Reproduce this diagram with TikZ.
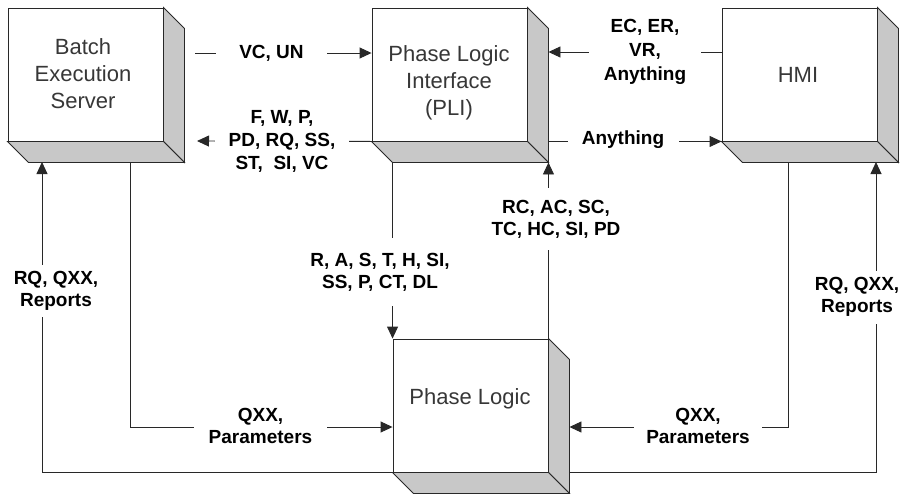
\documentclass[tikz,border=0pt]{standalone}
\usepackage{fontspec}
\setmainfont{Liberation Sans}
\usetikzlibrary{arrows.meta}

\definecolor{edge}{RGB}{40,40,40}
\definecolor{shade}{RGB}{200,200,200}
\definecolor{boxtxt}{RGB}{55,55,55}

% side and bottom faces of a block, plus the back corners as coordinates
\newcommand\blockfaces[1]{%
  \coordinate (#1-ne2) at ([shift={(21,21)}]#1.north east);
  \coordinate (#1-se2) at ([shift={(21,21)}]#1.south east);
  \coordinate (#1-sw2) at ([shift={(21,21)}]#1.south west);
  \filldraw[face] (#1.north east) -- (#1-ne2) -- (#1-se2) -- (#1.south east) -- cycle;
  \filldraw[face] (#1.south west) -- (#1.south east) -- (#1-se2) -- (#1-sw2) -- cycle;
}

\tikzset{
  block/.style={draw=edge, line width=0.9pt, fill=white, minimum width=155pt,
    minimum height=133pt, inner sep=0pt},
  face/.style={draw=edge, line width=0.9pt, fill=shade, line join=miter},
  blocktext/.style={font=\fontsize{22}{27}\selectfont, text=boxtxt, align=center},
  conn/.style={draw=edge, line width=0.9pt, -{Triangle[length=12pt,width=11pt]}},
  lbl/.style={font=\bfseries\fontsize{19}{22}\selectfont, align=center, fill=white,
    inner sep=0pt},
}

\begin{document}
\begin{tikzpicture}[x=1pt, y=-1pt]
\useasboundingbox (0,0) rectangle (904,493);

% blocks
\node[block] (bes) at (85.5,74.5) {};
\blockfaces{bes}
\node[block] (pli) at (449.5,74.5) {};
\blockfaces{pli}
\node[block] (hmi) at (799.5,74.5) {};
\blockfaces{hmi}
\node[block] (pl) at (470.5,405.5) {};
\blockfaces{pl}

\node[blocktext] (bestext) at (83,74) {Batch\\Execution\\Server};
\node[blocktext] (plitext) at (449,83) {Phase Logic\\Interface\\(PLI)};
\node[blocktext] (hmitext) at (798,75) {HMI};
\node[blocktext] (pltext) at (470,399) {Phase Logic};

% connector end points
\coordinate (vcStart) at (195,53);
\coordinate (fwEnd) at (197,141);
\coordinate (besOut) at (130,162);
\coordinate (besIn) at (42,162);
\coordinate (hmiOut) at (788,162);
\coordinate (hmiIn) at (876,162);

% connectors
\draw[conn] (vcStart) -- (pli.west |- vcStart);
\draw[conn] (pli.south west) -- (fwEnd);
\draw[conn] (hmi.west |- 0,52) -- (pli-ne2 |- 0,52);
\draw[conn] (pli-ne2 |- pli.south) -- (hmi.south west);
\draw[conn] (pli-sw2) -- (pl.north west);
\draw[conn] (pl.north east) -- (pl.north east |- pli-se2);
\draw[conn] (besOut) |- (pl.west |- 0,427);
\draw[conn] (pl.south west) -| (besIn);
\draw[conn] (pl-se2 |- pl.south) -| (hmiIn);
\draw[conn] (hmiOut) |- (pl-se2 |- 0,427);

% connector labels
\node[lbl, minimum width=111pt, minimum height=24pt] (lvc) at (271.5,53) {VC, UN};
\node[lbl, minimum width=134pt, font=\bfseries\fontsize{19}{23}\selectfont] (lfw) at (282,141.5)
  {F, W, P,\\PD, RQ, SS,\\ST,~ SI, VC};
\node[lbl, minimum width=112pt, font=\bfseries\fontsize{19}{24}\selectfont] (lec) at (645,52)
  {EC, ER,\\VR,\\Anything};
\node[lbl, minimum width=111pt, minimum height=24pt] (lany) at (623,140) {Anything};
\node[lbl, minimum height=68pt] (lras) at (380,272) {R, A, S, T, H, SI,\\SS, P, CT, DL};
\node[lbl, minimum height=62pt] (lrc) at (556,219) {RC, AC, SC,\\TC, HC, SI, PD};
\node[lbl, minimum height=52pt] (lrql) at (56,291) {RQ, QXX,\\Reports};
\node[lbl, minimum height=53pt] (lrqr) at (857,297) {RQ, QXX,\\Reports};
\node[lbl, minimum width=133pt] (lqxl) at (260.5,426) {QXX,\\Parameters};
\node[lbl, minimum width=128pt] (lqxr) at (698,426) {QXX,\\Parameters};
\end{tikzpicture}
\end{document}
